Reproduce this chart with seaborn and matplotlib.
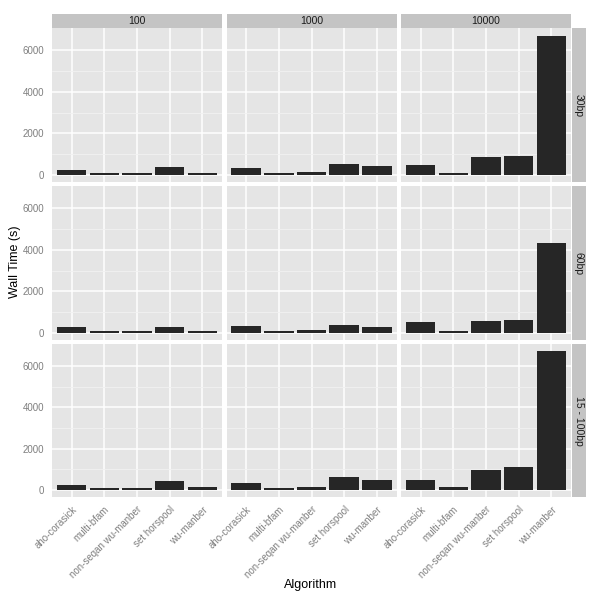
import matplotlib
matplotlib.use("Agg")
import matplotlib.pyplot as plt
from matplotlib.ticker import FixedLocator
import seaborn as sns
import pandas as pd

algorithms = ["aho-corasick", "multi-bfam", "non-seqan wu-manber", "set horspool", "wu-manber"]
num_patterns = ["100", "1000", "10000"]
read_lengths = ["30bp", "60bp", "15 - 100bp"]

times_30bp_100 = [240, 85, 85, 400, 80]
times_30bp_1000 = [320, 95, 145, 530, 430]
times_30bp_10000 = [480, 90, 860, 910, 6680]
times_60bp_100 = [290, 80, 80, 290, 80]
times_60bp_1000 = [335, 96, 145, 385, 290]
times_60bp_10000 = [510, 80, 560, 610, 4300]
times_mix_100 = [245, 85, 85, 440, 146]
times_mix_1000 = [335, 96, 145, 625, 480]
times_mix_10000 = [490, 146, 975, 1120, 6720]

series = {
    ("30bp", "100"): times_30bp_100,
    ("30bp", "1000"): times_30bp_1000,
    ("30bp", "10000"): times_30bp_10000,
    ("60bp", "100"): times_60bp_100,
    ("60bp", "1000"): times_60bp_1000,
    ("60bp", "10000"): times_60bp_10000,
    ("15 - 100bp", "100"): times_mix_100,
    ("15 - 100bp", "1000"): times_mix_1000,
    ("15 - 100bp", "10000"): times_mix_10000,
}

rows = []
for (rl, npat), vals in series.items():
    for a, v in zip(algorithms, vals):
        rows.append({"read_length": rl, "patterns": npat, "Algorithm": a, "time": v})
df = pd.DataFrame(rows)

sns.set_style("white")
plt.rcParams["font.family"] = ["Liberation Sans", "DejaVu Sans"]

W, H = 600, 600
fig = plt.figure(figsize=(6, 6), dpi=100)

def add_ax(x0, y0, x1, y1):
    return fig.add_axes([x0 / W, 1 - y1 / H, (x1 - x0) / W, (y1 - y0) / H])

col_x = [(52, 222), (226.5, 396.5), (401, 571)]
row_y = [(28, 182), (186, 340), (344, 497)]

ymax = df["time"].max()
ylim = (-0.05 * ymax, 1.05 * ymax)

tick_grey = "#7f7f7f"
for ri, rl in enumerate(read_lengths):
    for ci, npat in enumerate(num_patterns):
        x0, x1 = col_x[ci]
        y0, y1 = row_y[ri]
        ax = add_ax(x0, y0, x1, y1)
        sub = df[(df.read_length == rl) & (df.patterns == npat)]
        sns.barplot(data=sub, x="Algorithm", y="time", order=algorithms, color="#262626",
                    saturation=1, width=0.9, errorbar=None, linewidth=0, ax=ax)
        ax.set_facecolor("#e5e5e5")
        ax.set_xlim(-0.6, 4.6)
        ax.set_ylim(*ylim)
        ax.yaxis.set_major_locator(FixedLocator([0, 2000, 4000, 6000]))
        ax.yaxis.set_minor_locator(FixedLocator([1000, 3000, 5000]))
        ax.set_axisbelow(True)
        ax.grid(which="major", color="white", linewidth=1.1)
        ax.grid(which="minor", axis="y", color="#f2f2f2", linewidth=0.6)
        for s in ax.spines.values():
            s.set_visible(False)
        ax.set_xlabel("")
        ax.set_ylabel("")
        ax.tick_params(which="minor", length=0)
        ax.tick_params(which="major", length=3.5, width=0.7, color=tick_grey,
                       labelcolor=tick_grey, labelsize=7, pad=2)
        if ci == 0:
            ax.set_yticklabels(["0", "2000", "4000", "6000"])
        else:
            ax.tick_params(axis="y", length=0, labelleft=False)
        if ri == 2:
            ax.set_xticks(range(len(algorithms)))
            ax.set_xticklabels(algorithms, rotation=45, ha="right", rotation_mode="anchor")
        else:
            ax.tick_params(axis="x", length=0, labelbottom=False)

strip_fill = "#c4c4c4"
for ci, npat in enumerate(num_patterns):
    x0, x1 = col_x[ci]
    sax = add_ax(x0, 14, x1, 28)
    sax.set_facecolor(strip_fill)
    sax.set_xticks([]); sax.set_yticks([])
    for s in sax.spines.values():
        s.set_visible(False)
    sax.text(0.5, 0.5, npat, ha="center", va="center", fontsize=7.5, color="#1a1a1a",
             transform=sax.transAxes)

for ri, rl in enumerate(read_lengths):
    y0, y1 = row_y[ri]
    sax = add_ax(572, y0, 585.5, y1)
    sax.set_facecolor(strip_fill)
    sax.set_xticks([]); sax.set_yticks([])
    for s in sax.spines.values():
        s.set_visible(False)
    sax.text(0.5, 0.5, rl, ha="center", va="center", fontsize=7.5, color="#1a1a1a",
             rotation=-90, transform=sax.transAxes)

fig.text(15 / W, 1 - 262 / H, "Wall Time (s)", rotation=90, ha="center", va="center",
         fontsize=9, color="black")
fig.text(311 / W, 1 - 585 / H, "Algorithm", ha="center", va="center", fontsize=9,
         color="black")

fig.savefig("out.png", dpi=100, facecolor="white")
